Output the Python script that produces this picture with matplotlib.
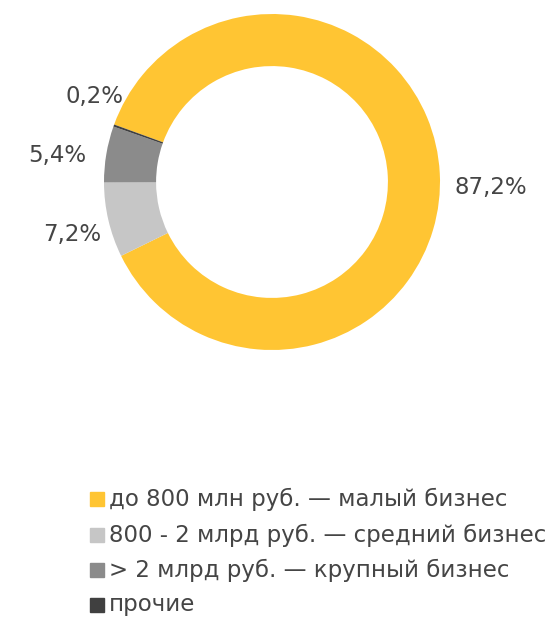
import matplotlib
matplotlib.use("Agg")
import matplotlib.pyplot as plt
import numpy as np

# data
categories = ["до 800 млн руб. — малый бизнес",
              "800 - 2 млрд руб. — средний бизнес",
              "> 2 млрд руб. — крупный бизнес",
              "прочие"]
shares = [87.2, 7.2, 5.4, 0.2]
labels = ["87,2%", "7,2%", "5,4%", "0,2%"]
colors = ["#FFC533", "#C6C6C6", "#8B8B8B", "#404040"]

plt.rcParams['font.family'] = ['DejaVu Sans']
txt_color = "#454545"

fig = plt.figure(figsize=(5.54, 6.19), dpi=100)
W, H = 554, 619
cx, cy, R = 272, 182, 168
ax = fig.add_axes([(cx - R) / W, (H - cy - R) / H, 2 * R / W, 2 * R / H])

wedges, _ = ax.pie(shares, colors=colors, startangle=160, counterclock=False,
                   radius=1.0, wedgeprops=dict(width=0.31, linewidth=0))
ax.set_xlim(-1, 1)
ax.set_ylim(-1, 1)
ax.set_aspect("equal")

# label placement: (radial distance, angle shift) per slice
lab_pos = [(1.30, -4.5), (1.23, 1.5), (1.29, 2.5), (1.17, -6.0)]
for w, lab, (dist, dth) in zip(wedges, labels, lab_pos):
    th = np.deg2rad((w.theta1 + w.theta2) / 2 + dth)
    ax.text(dist * np.cos(th), dist * np.sin(th), lab, ha="center", va="center",
            fontsize=16.5, color=txt_color)

# legend
leg_y = [499, 535, 570, 605]
for c, name, y in zip(colors, categories, leg_y):
    fig.patches.append(plt.Rectangle((90 / W, 1 - (y + 7) / H), 14 / W, 14 / H,
                                     transform=fig.transFigure, color=c))
    fig.text(109 / W, 1 - y / H, name, ha="left", va="center",
             fontsize=16.5, color=txt_color)

fig.savefig("out.png", dpi=100)
